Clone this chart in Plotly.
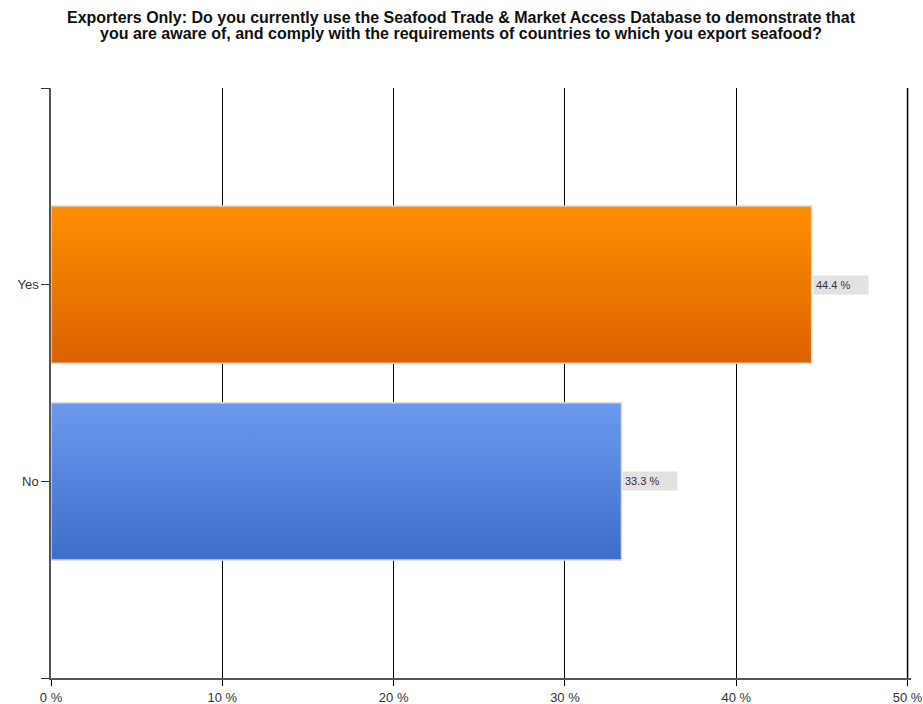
import plotly.graph_objects as go

title_lines = ["Exporters Only: Do you currently use the Seafood Trade & Market Access Database to demonstrate that",
               "you are aware of, and comply with the requirements of countries to which you export seafood?"]
categories = ["No", "Yes"]
values = [33.3, 44.4]
labels = ["33.3 %", "44.4 %"]
top_colors = ["#6A9AEE", "#FF8E00"]
bottom_colors = ["#3D6DCB", "#DC6200"]
x_ticks = [0, 10, 20, 30, 40, 50]
x_ticktext = ["0 %", "10 %", "20 %", "30 %", "40 %", "50 %"]

half = 0.4
fig = go.Figure()
for i, (cat, v) in enumerate(zip(categories, values)):
    fig.add_trace(go.Scatter(
        x=[0, v, v, 0, 0],
        y=[i - half, i - half, i + half, i + half, i - half],
        mode="lines", fill="toself",
        line=dict(color="#d8d8d8", width=1.5),
        fillgradient=dict(type="vertical",
                          colorscale=[[0, bottom_colors[i]], [1, top_colors[i]]]),
        hoverinfo="skip", showlegend=False,
    ))
    fig.add_annotation(x=v, y=i, text=labels[i], showarrow=False,
                       xanchor="left", xshift=1, bgcolor="#e2e2e2",
                       width=50, height=14, align="left",
                       font=dict(family="Liberation Sans, Arial", size=11, color="#333"),
                       borderpad=2)

fig.update_layout(
    width=923, height=704,
    margin=dict(l=51, r=12, t=88, b=26, autoexpand=False),
    plot_bgcolor="white", paper_bgcolor="white",
    font=dict(family="Liberation Sans, Arial", size=13, color="#333"),
    xaxis=dict(range=[0, 50.2], tickvals=x_ticks, ticktext=x_ticktext,
               showgrid=True, gridcolor="#000", gridwidth=1,
               showline=True, linecolor="#555", linewidth=2,
               ticks="outside", ticklen=6, tickcolor="#000",
               ticklabeloverflow="allow",
               zeroline=False, fixedrange=True, automargin=False),
    yaxis=dict(range=[-1, 2], tickvals=[-1, 0, 1, 2], ticktext=["", "No", "Yes", ""],
               showgrid=False, showline=True, linecolor="#555", linewidth=1.5,
               ticks="outside", ticklen=8, tickcolor="#333",
               zeroline=False, fixedrange=True, automargin=False),
)
fig.add_shape(type="line", xref="x", yref="paper", x0=x_ticks[-1], x1=x_ticks[-1],
              y0=0, y1=1, line=dict(color="#000", width=1.5), layer="above")
for k, line in enumerate(title_lines):
    fig.add_annotation(text="<b>" + line + "</b>", xref="paper", yref="paper",
                       x=0.5, y=1, xshift=-20, yshift=88 - 17 - 16 * k, yanchor="middle",
                       showarrow=False,
                       font=dict(family="Liberation Sans, Arial", size=16, color="#111"))
fig.write_html("out.html")
